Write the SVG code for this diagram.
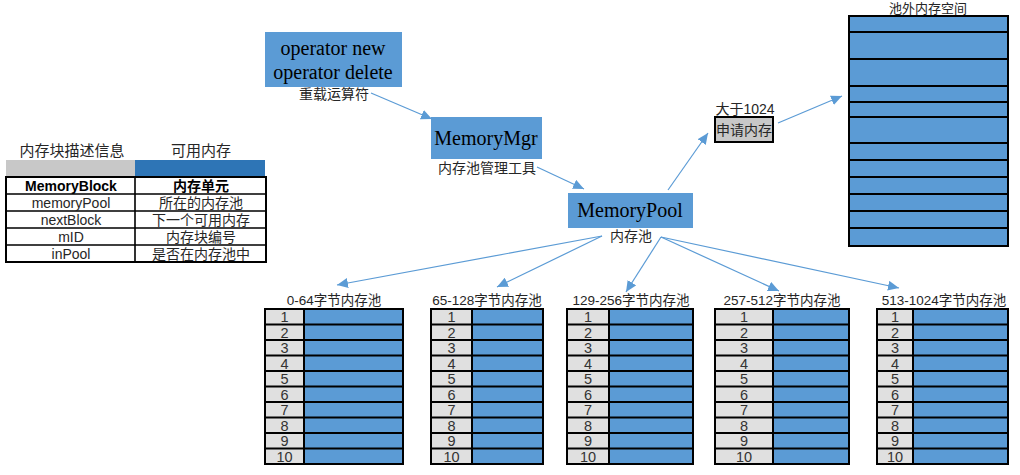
<svg xmlns="http://www.w3.org/2000/svg" width="1020" height="475" viewBox="0 0 1020 475">
<defs>
<style>
.t{font-family:"Liberation Sans","Noto Sans CJK SC",sans-serif;font-size:14px;fill:#262626;text-anchor:middle}
.h{font-size:15px}
.pt{font-size:13.5px}
.s{font-family:"Liberation Sans","Noto Sans CJK SC",sans-serif;font-size:14px;fill:#262626;text-anchor:middle}
.n{font-family:"Liberation Sans",sans-serif;font-size:14.5px;fill:#333;text-anchor:middle}
.b{font-weight:bold;fill:#000}
.tm{font-family:"Liberation Serif","Times New Roman",serif;font-size:20px;fill:#000;text-anchor:middle}
.node{fill:#5B9BD5}
.bl{fill:#5B9BD5}
.gr{fill:#E0E0E0}
.ln{stroke:#000;stroke-width:2;fill:none}
.ln1{stroke:#000;stroke-width:1.6;fill:none}
.box{stroke:#000;stroke-width:2;fill:#C8C8C8}
.c{stroke:#5B9BD5;stroke-width:1.2;fill:none;marker-end:url(#ah)}
</style>
<marker id="ah" markerUnits="userSpaceOnUse" markerWidth="12" markerHeight="10" refX="11" refY="5" orient="auto">
<path d="M0,0 L11,5 L0,10 Z" fill="#5B9BD5"/>
</marker>
</defs>
<rect width="1020" height="475" fill="#fff"/>

<g id="legend">
<text class="t h" x="72" y="156">内存块描述信息</text>
<text class="t h" x="201" y="156">可用内存</text>
<rect x="6" y="160" width="129" height="17" fill="#C8C8C8"/>
<rect x="135" y="160" width="130" height="17" fill="#2E75B6"/>
<rect x="6" y="177" width="260" height="85" class="ln"/>
<path d="M6,194H266M6,211H266M6,228H266M6,245H266M135,177V262" class="ln1"/>
<text class="s b" x="71" y="190.5">MemoryBlock</text>
<text class="t b" x="201" y="190.5">内存单元</text>
<text class="s" x="71" y="207.5">memoryPool</text>
<text class="t" x="201" y="207.5">所在的内存池</text>
<text class="s" x="71" y="224.5">nextBlock</text>
<text class="t" x="201" y="224.5">下一个可用内存</text>
<text class="s" x="71" y="241.5">mID</text>
<text class="t" x="201" y="241.5">内存块编号</text>
<text class="s" x="71" y="258.5">inPool</text>
<text class="t" x="201" y="258.5">是否在内存池中</text>
</g>

<g id="op">
<rect x="265" y="32" width="137" height="55" class="node"/>
<text class="tm" x="333" y="55">operator new</text>
<text class="tm" x="333" y="79">operator delete</text>
<text class="t" x="334" y="99">重载运算符</text>
</g>

<g id="mgr">
<rect x="431" y="117" width="111" height="42" class="node"/>
<text class="tm" x="486" y="145">MemoryMgr</text>
<text class="t" x="487" y="173">内存池管理工具</text>
</g>

<g id="pool">
<rect x="568" y="193" width="125" height="35" class="node"/>
<text class="tm" x="630" y="217">MemoryPool</text>
<text class="t" x="631" y="241">内存池</text>
</g>

<g id="req">
<text class="s" x="745" y="114">大于1024</text>
<rect x="715" y="117" width="58" height="25" class="box"/>
<text class="t" x="744" y="135">申请内存</text>
</g>

<g id="outer">
<text class="t" x="928" y="13" style="font-size:13px">池外内存空间</text>
<rect x="849" y="16" width="159" height="230" class="bl"/>
<path d="M849,32H1008M849,59H1008M849,86H1008M849,102H1008M849,117H1008M849,143H1008M849,160H1008M849,177H1008M849,194H1008M849,211H1008M849,228H1008" class="ln"/>
<rect x="849" y="16" width="159" height="230" class="ln" stroke-width="2.5"/>
</g>

<g id="pool1">
<text class="t pt" x="334" y="305">0-64字节内存池</text>
<rect x="265" y="309" width="39" height="155" class="gr"/>
<rect x="304" y="309" width="99" height="155" class="bl"/>
<path d="M265,324.5H403M265,340H403M265,355.5H403M265,371H403M265,386.5H403M265,402H403M265,417.5H403M265,433H403M265,448.5H403M304,309V464" class="ln"/>
<rect x="265" y="309" width="138" height="155" class="ln"/>
<g class="n"><text x="284.5" y="322">1</text><text x="284.5" y="337.5">2</text><text x="284.5" y="353">3</text><text x="284.5" y="368.5">4</text><text x="284.5" y="384">5</text><text x="284.5" y="399.5">6</text><text x="284.5" y="415">7</text><text x="284.5" y="430.5">8</text><text x="284.5" y="446">9</text><text x="284.5" y="461.5">10</text></g>
</g>

<g id="pool2">
<text class="t pt" x="487" y="305">65-128字节内存池</text>
<rect x="431" y="309" width="41" height="155" class="gr"/>
<rect x="472" y="309" width="71" height="155" class="bl"/>
<path d="M431,324.5H543M431,340H543M431,355.5H543M431,371H543M431,386.5H543M431,402H543M431,417.5H543M431,433H543M431,448.5H543M472,309V464" class="ln"/>
<rect x="431" y="309" width="112" height="155" class="ln"/>
<g class="n"><text x="451.5" y="322">1</text><text x="451.5" y="337.5">2</text><text x="451.5" y="353">3</text><text x="451.5" y="368.5">4</text><text x="451.5" y="384">5</text><text x="451.5" y="399.5">6</text><text x="451.5" y="415">7</text><text x="451.5" y="430.5">8</text><text x="451.5" y="446">9</text><text x="451.5" y="461.5">10</text></g>
</g>

<g id="pool3">
<text class="t pt" x="631" y="305">129-256字节内存池</text>
<rect x="567" y="309" width="42" height="155" class="gr"/>
<rect x="609" y="309" width="84" height="155" class="bl"/>
<path d="M567,324.5H693M567,340H693M567,355.5H693M567,371H693M567,386.5H693M567,402H693M567,417.5H693M567,433H693M567,448.5H693M609,309V464" class="ln"/>
<rect x="567" y="309" width="126" height="155" class="ln"/>
<g class="n"><text x="588" y="322">1</text><text x="588" y="337.5">2</text><text x="588" y="353">3</text><text x="588" y="368.5">4</text><text x="588" y="384">5</text><text x="588" y="399.5">6</text><text x="588" y="415">7</text><text x="588" y="430.5">8</text><text x="588" y="446">9</text><text x="588" y="461.5">10</text></g>
</g>

<g id="pool4">
<text class="t pt" x="782" y="305">257-512字节内存池</text>
<rect x="715" y="309" width="58" height="155" class="gr"/>
<rect x="773" y="309" width="76" height="155" class="bl"/>
<path d="M715,324.5H849M715,340H849M715,355.5H849M715,371H849M715,386.5H849M715,402H849M715,417.5H849M715,433H849M715,448.5H849M773,309V464" class="ln"/>
<rect x="715" y="309" width="134" height="155" class="ln"/>
<g class="n"><text x="744" y="322">1</text><text x="744" y="337.5">2</text><text x="744" y="353">3</text><text x="744" y="368.5">4</text><text x="744" y="384">5</text><text x="744" y="399.5">6</text><text x="744" y="415">7</text><text x="744" y="430.5">8</text><text x="744" y="446">9</text><text x="744" y="461.5">10</text></g>
</g>

<g id="pool5">
<text class="t pt" x="944" y="305">513-1024字节内存池</text>
<rect x="877" y="309" width="36" height="155" class="gr"/>
<rect x="913" y="309" width="95" height="155" class="bl"/>
<path d="M877,324.5H1008M877,340H1008M877,355.5H1008M877,371H1008M877,386.5H1008M877,402H1008M877,417.5H1008M877,433H1008M877,448.5H1008M913,309V464" class="ln"/>
<rect x="877" y="309" width="131" height="155" class="ln"/>
<g class="n"><text x="895" y="322">1</text><text x="895" y="337.5">2</text><text x="895" y="353">3</text><text x="895" y="368.5">4</text><text x="895" y="384">5</text><text x="895" y="399.5">6</text><text x="895" y="415">7</text><text x="895" y="430.5">8</text><text x="895" y="446">9</text><text x="895" y="461.5">10</text></g>
</g>

<g id="connectors">
<line x1="371" y1="93" x2="432" y2="119" class="c"/>
<line x1="537" y1="167" x2="584" y2="189" class="c"/>
<line x1="668" y1="190" x2="708" y2="133" class="c"/>
<line x1="778" y1="123" x2="842" y2="96" class="c"/>
<line x1="602" y1="236" x2="337" y2="285" class="c"/>
<line x1="602" y1="236" x2="497" y2="287" class="c"/>
<line x1="661" y1="237" x2="626" y2="292" class="c"/>
<line x1="661" y1="237" x2="779" y2="291" class="c"/>
<line x1="661" y1="237" x2="899" y2="288" class="c"/>
</g>
</svg>
